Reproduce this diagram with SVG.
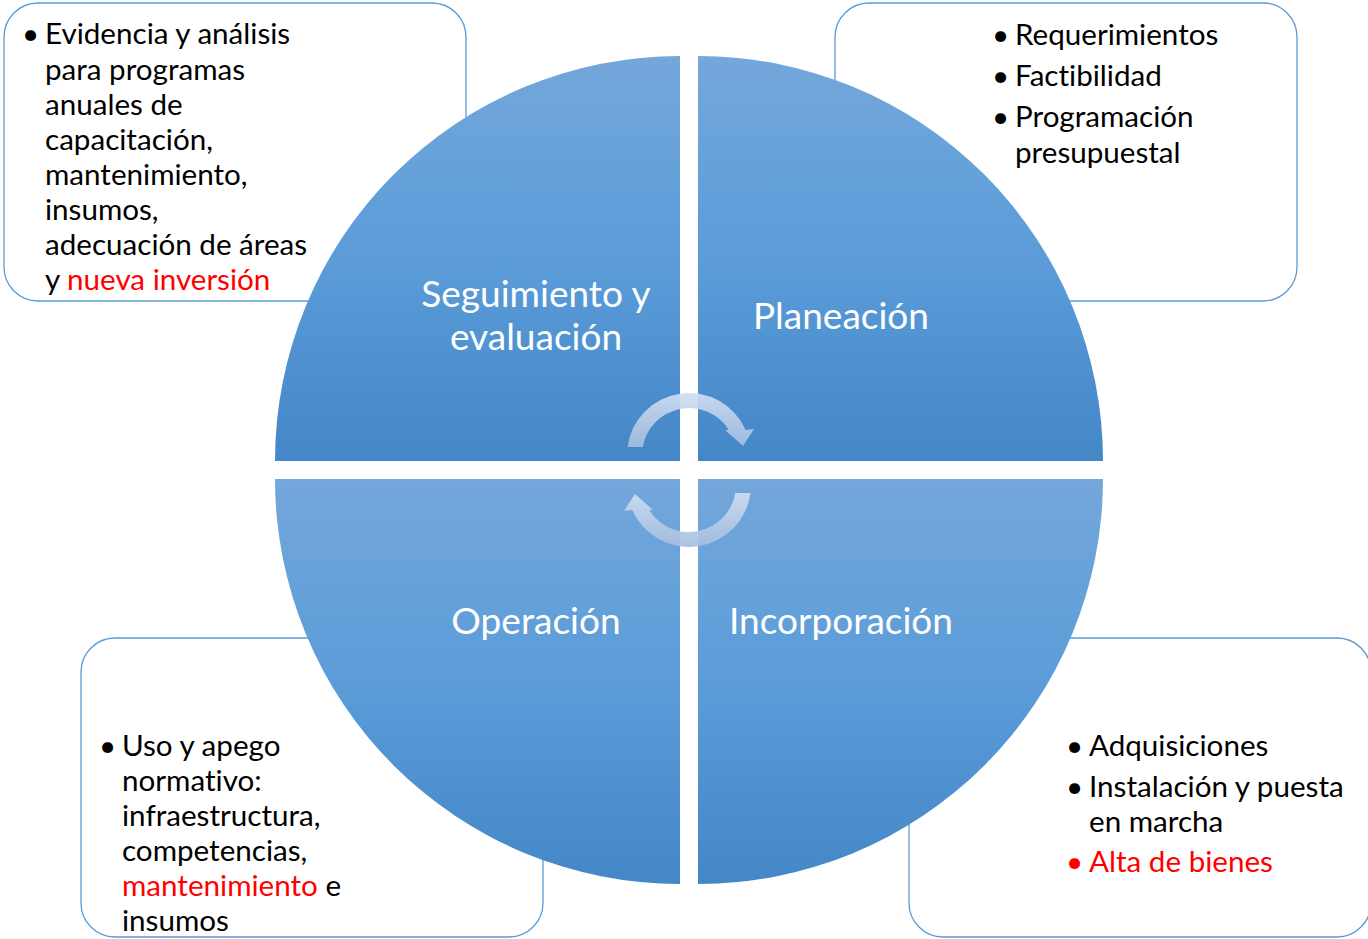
<svg xmlns="http://www.w3.org/2000/svg" width="1368" height="939" viewBox="0 0 1368 939">
<defs>
<linearGradient id="qg" x1="0" y1="0" x2="0" y2="1">
<stop offset="0" stop-color="#74a7db"/>
<stop offset="0.5" stop-color="#5b9cd9"/>
<stop offset="1" stop-color="#4487c7"/>
</linearGradient>
<linearGradient id="ag" x1="0" y1="0" x2="0" y2="1">
<stop offset="0" stop-color="#cfdef2"/>
<stop offset="1" stop-color="#a5bddf"/>
</linearGradient>
</defs>
<style>
.box{fill:#fff;stroke:#5b9bd5;stroke-width:1.3}
.t{font-family:Lato,"Liberation Sans",sans-serif;font-size:29.6px;fill:#000;font-variant-ligatures:none}
.r{fill:#ff0000}
.q{fill:url(#qg)}
.ql{font-family:Lato,"Liberation Sans",sans-serif;font-size:37px;fill:#fff;text-anchor:middle;font-variant-ligatures:none}
.arr{fill:url(#ag);opacity:0.92}
</style>
<g id="box-tl">
<rect class="box" x="4" y="3" width="462" height="298" rx="34"/>
<text class="t" x="22" y="44">•</text>
<text class="t"><tspan x="45" y="44">Evidencia y análisis</tspan><tspan x="45" y="80">para programas</tspan><tspan x="45" y="115">anuales de</tspan><tspan x="45" y="150">capacitación,</tspan><tspan x="45" y="185">mantenimiento,</tspan><tspan x="45" y="220">insumos,</tspan><tspan x="45" y="255">adecuación de áreas</tspan><tspan x="45" y="290">y <tspan class="r">nueva inversión</tspan></tspan></text>
</g>
<g id="box-tr">
<rect class="box" x="835" y="3" width="462" height="298" rx="34"/>
<text class="t" x="992" y="45">•</text>
<text class="t" x="992" y="86">•</text>
<text class="t" x="992" y="127">•</text>
<text class="t"><tspan x="1015" y="45">Requerimientos</tspan><tspan x="1015" y="86">Factibilidad</tspan><tspan x="1015" y="127">Programación</tspan><tspan x="1015" y="163">presupuestal</tspan></text>
</g>
<g id="box-bl">
<rect class="box" x="81" y="638" width="462" height="299" rx="34"/>
<text class="t" x="99" y="756">•</text>
<text class="t"><tspan x="122" y="756">Uso y apego</tspan><tspan x="122" y="791">normativo:</tspan><tspan x="122" y="826">infraestructura,</tspan><tspan x="122" y="861">competencias,</tspan><tspan x="122" y="896"><tspan class="r">mantenimiento</tspan> e</tspan><tspan x="122" y="931">insumos</tspan></text>
</g>
<g id="box-br">
<rect class="box" x="909" y="638" width="462" height="299" rx="34"/>
<text class="t" x="1066" y="756">•</text>
<text class="t" x="1066" y="797">•</text>
<text class="t r" x="1066" y="872">•</text>
<text class="t"><tspan x="1089" y="756">Adquisiciones</tspan><tspan x="1089" y="797">Instalación y puesta</tspan><tspan x="1089" y="832">en marcha</tspan><tspan class="r" x="1089" y="872">Alta de bienes</tspan></text>
</g>
<g id="q-seguimiento">
<path class="q" d="M680 461 H275 A405 405 0 0 1 680 56 Z"/>
<text class="ql"><tspan x="536" y="307">Seguimiento y</tspan><tspan x="536" y="350">evaluación</tspan></text>
</g>
<g id="q-planeacion">
<path class="q" d="M698 461 V56 A405 405 0 0 1 1103 461 Z"/>
<text class="ql" x="841" y="329">Planeación</text>
</g>
<g id="q-incorporacion">
<path class="q" d="M698 479 H1103 A405 405 0 0 1 698 884 Z"/>
<text class="ql" x="841" y="634">Incorporación</text>
</g>
<g id="q-operacion">
<path class="q" d="M680 479 V884 A405 405 0 0 1 275 479 Z"/>
<text class="ql" x="536" y="634">Operación</text>
</g>
<g id="connectors">
<path class="arr" d="M627.5 447 A62 62 0 0 1 745.7 430 L754 429 L743 446 L725 430 L728.8 430 A47 47 0 0 0 642.7 447 Z"/>
<path class="arr" d="M750.5 493 A62 62 0 0 1 632.3 510 L624 511 L635 494 L653 510 L649.2 510 A47 47 0 0 0 735.3 493 Z"/>
</g>
</svg>
